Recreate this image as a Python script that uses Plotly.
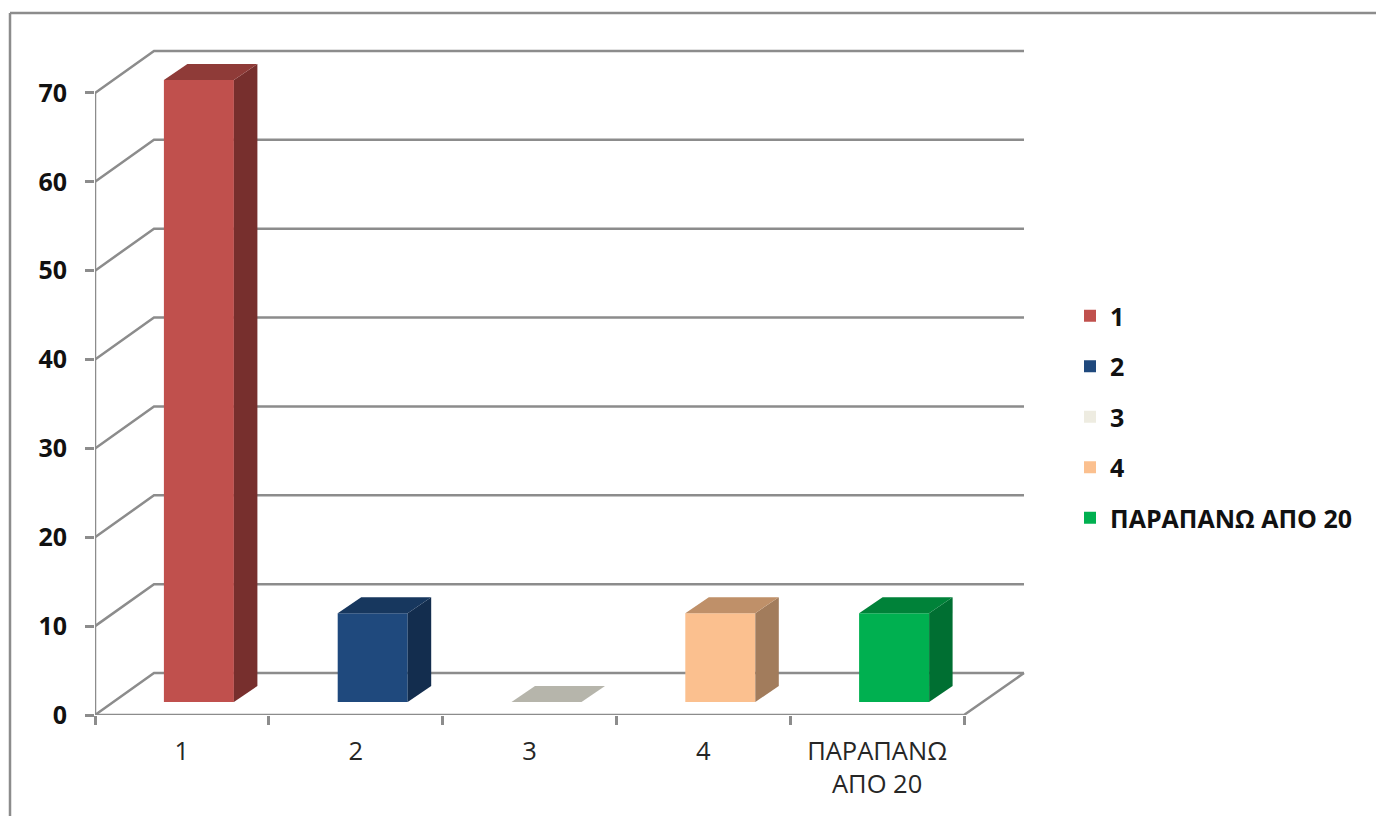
import plotly.graph_objects as go

categories = ["1", "2", "3", "4", "ΠΑΡΑΠΑΝΩ ΑΠΟ 20"]
tick_labels = ["1", "2", "3", "4", "ΠΑΡΑΠΑΝΩ<br>ΑΠΟ 20"]
values = [70, 10, 0, 10, 10]
y_ticks = [0, 10, 20, 30, 40, 50, 60, 70]
front_colors = ["#C0504D", "#1F497D", "#EEECE1", "#FBC08F", "#00B050"]
side_colors = ["#772F2D", "#132D4E", "#B6B5AB", "#A27C5C", "#006F32"]
top_colors = ["#8F3B38", "#17375E", "#B6B5AB", "#BF9069", "#008239"]

GRID = "#8C8C8C"
FONT = "Open Sans"

# pixel frame of the plotting area
L, R, T, B = 95, 1030, 41, 715
PX_X = 173.8   # px per category
PX_Y = 8.886   # px per value unit
XMIN = 0.5
XMAX = XMIN + (R - L) / PX_X
YMAX = (B - T) / PX_Y

# 3-D projection expressed in axis units
WALL_DX, WALL_DY = 59 / PX_X, 42 / PX_Y
WALL_END = XMIN + (1024 - L) / PX_X
BAR_DX, BAR_DY = 23.5 / PX_X, 16 / PX_Y
BAR_SHIFT_X, BAR_BASE = 17 / PX_X, 13 / PX_Y
BAR_W = 70 / PX_X

n = len(categories)
pos = list(range(1, n + 1))
fig = go.Figure()

# bars: front faces (carry the legend)
for i, name in enumerate(categories):
    fig.add_trace(go.Bar(
        x=[pos[i] + BAR_SHIFT_X], y=[values[i]], base=[BAR_BASE], width=BAR_W,
        name=name, legendgroup=name, marker=dict(color=front_colors[i], line_width=0),
        cliponaxis=False,
    ))

# bars: side and top faces
for i, name in enumerate(categories):
    x0 = pos[i] + BAR_SHIFT_X - BAR_W / 2
    x1 = x0 + BAR_W
    y0 = BAR_BASE
    y1 = BAR_BASE + values[i]
    if values[i] > 0:
        fig.add_trace(go.Scatter(
            x=[x1, x1 + BAR_DX, x1 + BAR_DX, x1, x1],
            y=[y0, y0 + BAR_DY, y1 + BAR_DY, y1, y0],
            mode="lines", fill="toself", fillcolor=side_colors[i], line=dict(width=0),
            showlegend=False, hoverinfo="skip", cliponaxis=False,
        ))
    fig.add_trace(go.Scatter(
        x=[x0, x1, x1 + BAR_DX, x0 + BAR_DX, x0],
        y=[y1, y1, y1 + BAR_DY, y1 + BAR_DY, y1],
        mode="lines", fill="toself", fillcolor=top_colors[i], line=dict(width=0),
        showlegend=False, hoverinfo="skip", cliponaxis=False,
    ))

# front axis lines: they sit on the plot edge, so they are drawn unclipped
fig.add_trace(go.Scatter(
    x=[XMIN, XMIN, n + XMIN, WALL_END], y=[y_ticks[-1], 0, 0, WALL_DY],
    mode="lines", line=dict(color=GRID, width=2.5), showlegend=False,
    hoverinfo="skip", cliponaxis=False,
))

# wall and floor lines, behind the bars
shapes = []
for v in y_ticks:
    shapes.append(dict(
        type="path", xref="x", yref="y",
        path=f"M{XMIN},{v} L{XMIN + WALL_DX},{v + WALL_DY} L{WALL_END},{v + WALL_DY}",
        line=dict(color=GRID, width=2.5), layer="below",
    ))

# outer chart frame, running off the top right
px = lambda p: (p - L) / (R - L)
py = lambda p: (B - p) / (B - T)
frame = dict(color="#8C8C8C", width=2.5)
shapes.append(dict(type="line", xref="paper", yref="paper", x0=px(10), x1=px(10),
                   y0=py(13), y1=py(830), line=frame))
shapes.append(dict(type="line", xref="paper", yref="paper", x0=px(10), x1=px(1390),
                   y0=py(13), y1=py(13), line=frame))

fig.update_layout(
    width=1376, height=816,
    margin=dict(l=L, r=1376 - R, t=T, b=816 - B, autoexpand=False),
    paper_bgcolor="white", plot_bgcolor="white",
    barmode="overlay", shapes=shapes,
    font=dict(family=FONT, color="#1a1a1a"),
    xaxis=dict(
        range=[XMIN, XMAX], tickmode="array", tickvals=pos, ticktext=tick_labels,
        ticks="outside", ticklen=13, tickcolor="rgba(0,0,0,0)", showgrid=False,
        zeroline=False, showline=False, tickangle=0,
        tickfont=dict(family=FONT, size=25.5, color="#262626"),
        minor=dict(ticks="outside", ticklen=9, tickwidth=2.5, tickcolor=GRID,
                   tickmode="array", tickvals=[p - 0.5 for p in pos] + [n + 0.5], showgrid=False),
    ),
    yaxis=dict(
        range=[0, YMAX], tickmode="array", tickvals=y_ticks, ticks="outside",
        ticklen=9, tickwidth=2.5, tickcolor=GRID, showgrid=False, zeroline=False,
        showline=False, ticklabelstandoff=13,
        tickfont=dict(family=FONT, size=25, color="#111111", weight="bold"),
    ),
    legend=dict(
        x=(1070 - L) / (R - L), xanchor="left", y=py(293), yanchor="top",
        traceorder="grouped", tracegroupgap=15, itemwidth=30,
        font=dict(family=FONT, size=25, color="#111111", weight="bold"),
        bgcolor="rgba(0,0,0,0)",
    ),
    showlegend=True,
)

fig.write_html("out.html", config={"displayModeBar": False},
               post_script="document.body.style.margin='0';")
